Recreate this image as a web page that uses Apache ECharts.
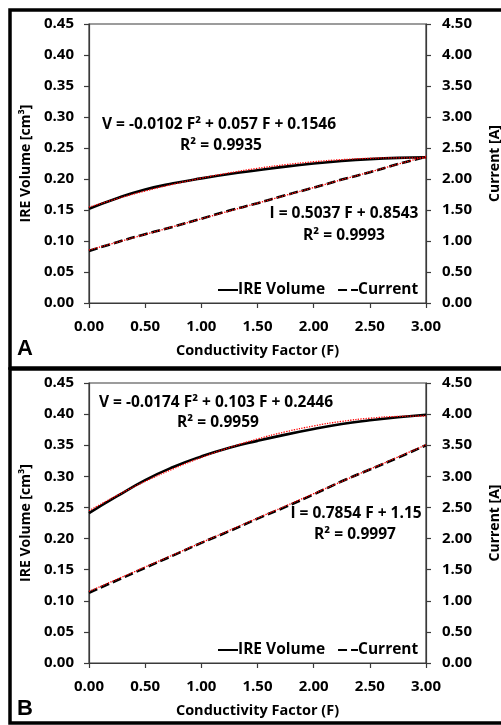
<!DOCTYPE html>
<html><head><meta charset="utf-8">
<script src="https://cdn.jsdelivr.net/npm/echarts@6/dist/echarts.min.js"></script>
<style>html,body{margin:0;padding:0;background:#fff}#c{width:501px;height:725px}</style>
</head><body><div id="c"></div>
<script>
const F = [0, 0.25, 0.5, 0.75, 1.0, 1.25, 1.5, 1.75, 2.0, 2.25, 2.5, 2.75, 3.0];
// Panel A
const volA    = [0.152, 0.169, 0.183, 0.193, 0.201, 0.208, 0.214, 0.220, 0.225, 0.229, 0.232, 0.234, 0.235];
const volAFit = [0.1546, 0.1682, 0.1806, 0.1916, 0.2014, 0.2099, 0.2172, 0.2231, 0.2278, 0.2312, 0.2334, 0.2342, 0.2338];
const curA    = [0.84, 0.98, 1.11, 1.23, 1.36, 1.49, 1.61, 1.74, 1.86, 1.99, 2.11, 2.24, 2.36];
const curAFit = [0.854, 0.980, 1.106, 1.232, 1.358, 1.483, 1.610, 1.736, 1.862, 1.988, 2.113, 2.239, 2.365];
// Panel B
const volB    = [0.241, 0.268, 0.294, 0.315, 0.332, 0.346, 0.357, 0.367, 0.376, 0.384, 0.390, 0.395, 0.399];
const volBFit = [0.2446, 0.2693, 0.2918, 0.3121, 0.3302, 0.3462, 0.3600, 0.3716, 0.3810, 0.3883, 0.3934, 0.3963, 0.3970];
const curB    = [1.13, 1.33, 1.53, 1.73, 1.93, 2.12, 2.32, 2.51, 2.71, 2.92, 3.11, 3.30, 3.50];
const curBFit = [1.150, 1.346, 1.543, 1.739, 1.935, 2.132, 2.328, 2.524, 2.721, 2.917, 3.114, 3.310, 3.506];

const eqA1 = 'V = -0.0102 F² + 0.057 F + 0.1546', eqA2 = 'R² = 0.9935';
const eqA3 = 'I = 0.5037 F + 0.8543', eqA4 = 'R² = 0.9993';
const eqB1 = 'V = -0.0174 F² + 0.103 F + 0.2446', eqB2 = 'R² = 0.9959';
const eqB3 = 'I = 0.7854 F + 1.15', eqB4 = 'R² = 0.9997';

const FONT = '"Open Sans"';
const FS = 15;      // tick labels
const FE = 15.5;    // equations / legend
const AXC = '#3a3a3a';
const pair = (xs, ys) => xs.map((x, i) => [x, ys[i]]);

function xAx(gi) {
  return {
    type: 'value', gridIndex: gi, min: 0, max: 3, interval: 0.5,
    name: 'Conductivity Factor (F)', nameLocation: 'middle', nameGap: 40,
    nameTextStyle: {fontFamily: FONT, fontWeight: 'bold', fontSize: 14.5, color: '#000'},
    axisLine: {show: true, lineStyle: {color: AXC, width: 1.2}},
    axisTick: {show: true, inside: false, length: 5, lineStyle: {color: AXC, width: 1.2}},
    axisLabel: {formatter: v => v.toFixed(2), fontFamily: FONT, fontWeight: 'bold', fontSize: FS, color: '#000', margin: 16},
    splitLine: {show: false}
  };
}
function yAx(gi, right) {
  return {
    type: 'value', gridIndex: gi, position: right ? 'right' : 'left',
    min: 0, max: right ? 4.5 : 0.45, interval: right ? 0.5 : 0.05,
    name: right ? 'Current [A]' : 'IRE Volume [cm³]', nameLocation: 'middle', nameRotate: 90,
    nameGap: right ? 62 : 55,
    nameTextStyle: {fontFamily: FONT, fontWeight: 'bold', fontSize: 14, color: '#000'},
    axisLine: {show: true, lineStyle: {color: AXC, width: 1.2}},
    axisTick: {show: true, inside: false, length: 5, lineStyle: {color: AXC, width: 1.2}},
    axisLabel: {formatter: v => v.toFixed(2), fontFamily: FONT, fontWeight: 'bold', fontSize: FS, color: '#000', margin: right ? 16 : 15},
    splitLine: {show: false}
  };
}
function ser(name, xi, yi, data, type, color, width) {
  return {
    name: name, type: 'line', xAxisIndex: xi, yAxisIndex: yi, data: data,
    showSymbol: false, symbol: 'none', smooth: true, silent: true,
    lineStyle: {color: color, width: width, type: type},
    itemStyle: {color: color}, z: color === '#ff0000' ? 5 : 3
  };
}
function t(x, y, s) { return {type: 'text', x: x, y: y, style: {text: s, font: 'bold ' + FE + 'px ' + FONT, fill: '#000', align: 'center', verticalAlign: 'middle'}}; }
function leg(top) {
  return {data: ['IRE Volume', 'Current'], left: 212, top: top, itemWidth: 20, itemHeight: 10, itemGap: 12,
    itemStyle: {opacity: 0},
    textStyle: {fontFamily: FONT, fontWeight: 'bold', fontSize: FE, color: '#000', padding: [0, 0, 0, -5]}, selectedMode: false};
}

const chart = echarts.init(document.getElementById('c'), null, {renderer: 'canvas'});
chart.setOption({
  animation: false,
  grid: [
    {left: 89, top: 24, width: 337, height: 279, show: true, borderColor: AXC, borderWidth: 1.2, backgroundColor: 'transparent', containLabel: false, outerBoundsMode: 'none'},
    {left: 89, top: 383, width: 337, height: 280, show: true, borderColor: AXC, borderWidth: 1.2, backgroundColor: 'transparent', containLabel: false, outerBoundsMode: 'none'}
  ],
  xAxis: [xAx(0), xAx(1)],
  yAxis: [yAx(0, false), yAx(0, true), yAx(1, false), yAx(1, true)],
  legend: [leg(277), leg(637)],
  series: [
    ser('IRE Volume', 0, 0, pair(F, volA), 'solid', '#000', 2.6),
    ser('Current', 0, 1, pair(F, curA), [9, 4], '#000', 2.6),
    ser('fitVA', 0, 0, pair(F, volAFit), 'dotted', '#ff0000', 1.3),
    ser('fitCA', 0, 1, pair(F, curAFit), 'dotted', '#ff0000', 1.3),
    ser('IRE Volume', 1, 2, pair(F, volB), 'solid', '#000', 2.6),
    ser('Current', 1, 3, pair(F, curB), [9, 4], '#000', 2.6),
    ser('fitVB', 1, 2, pair(F, volBFit), 'dotted', '#ff0000', 1.3),
    ser('fitCB', 1, 3, pair(F, curBFit), 'dotted', '#ff0000', 1.3)
  ],
  graphic: [
    {type: 'rect', shape: {x: 10, y: 10, width: 500, height: 358}, style: {fill: 'none', stroke: '#000', lineWidth: 3.5}, silent: true},
    {type: 'rect', shape: {x: 10, y: 369, width: 500, height: 354}, style: {fill: 'none', stroke: '#000', lineWidth: 3.5}, silent: true},
    t(219, 125, eqA1), t(221, 146, eqA2),
    t(344, 214, eqA3), t(344, 236, eqA4),
    t(216, 403, eqB1), t(218, 423, eqB2),
    t(356, 514, eqB3), t(355, 535, eqB4),
    {type: 'text', x: 25, y: 349, style: {text: 'A', font: 'bold 22px "Liberation Sans"', fill: '#000', align: 'center', verticalAlign: 'middle'}},
    {type: 'text', x: 25, y: 709, style: {text: 'B', font: 'bold 22px "Liberation Sans"', fill: '#000', align: 'center', verticalAlign: 'middle'}}
  ]
});
</script></body></html>
